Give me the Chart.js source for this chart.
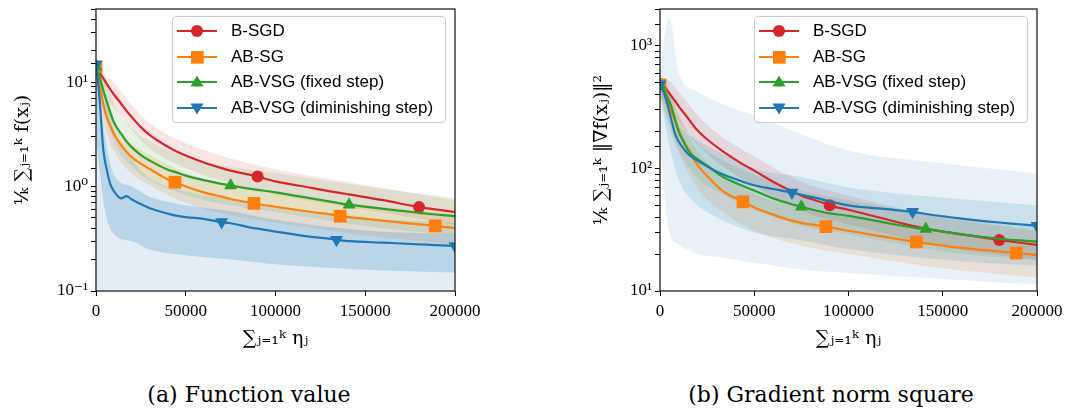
<!DOCTYPE html>
<html>
<head>
<meta charset="utf-8">
<script src="https://cdn.jsdelivr.net/npm/chart.js@4.4.1/dist/chart.umd.min.js"></script>
<style>
  body { margin: 0; width: 1068px; height: 416px; background: #fff; position: relative; overflow: hidden; }
  .panel { position: absolute; top: 0; }
  .legend { position: absolute; top: 16px; width: 272px; height: 105px; background: rgba(255,255,255,0.8);
            border: 1px solid #cccccc; border-radius: 4px; font-family: 'Liberation Sans', Arial, sans-serif;
            font-size: 17px; color: #000; }
  .legend .item { position: absolute; left: 4px; height: 20px; display: flex; align-items: center; white-space: nowrap; }
  .legend canvas { margin-right: 14px; }
  .caption { position: absolute; top: 382px; font-family: 'DejaVu Serif', serif; font-size: 22px;
             transform: translateX(-50%); white-space: nowrap; color: #000; }
</style>
</head>
<body>
<div class="panel" style="left:0px"><canvas id="chart-a" width="500" height="355"></canvas></div>
<div class="panel" style="left:540px"><canvas id="chart-b" width="528" height="355"></canvas></div>
<div class="legend" id="legend-a" style="left:172px"></div>
<div class="legend" id="legend-b" style="left:754px"></div>
<div class="caption" style="left:249px">(a) Function value</div>
<div class="caption" style="left:831px">(b) Gradient norm square</div>

<script>
// Series names and colours (legend order)
const SERIES = ['B-SGD', 'AB-SG', 'AB-VSG (fixed step)', 'AB-VSG (diminishing step)'];
const COLORS = ['#d62728', '#ff7f0e', '#2ca02c', '#1f77b4'];
const MARKERS = ['circle', 'rect', 'triangle', 'triangle'];
const ROTATIONS = [0, 0, 0, 180];
const RADII = [6, 9, 7.5, 7.5];

// Where the markers sit along the x axis
const MARK_BSGD = [0, 90000, 180000];
const MARK_ABSG = [0, 44000, 88000, 136000, 189000];
const MARK_FIXED = [0, 75000, 141000];
const MARK_DIM = [0, 70000, 134000, 200000];

const X_TICKS = [0, 50000, 100000, 150000, 200000];

// (a) Function value: mean curves
const LEFT_X = [0, 2000, 4000, 6000, 8000, 10000, 14000, 17000, 20000, 25000, 30000, 40000, 44000, 50000,
  60000, 70000, 75000, 88000, 90000, 100000, 120000, 134000, 136000, 141000, 160000, 180000, 189000, 200000];
const LEFT_BSGD = [14, 12.3, 10.9, 9.6, 8.5, 7.6, 6.2, 5.3, 4.6, 3.7, 3.1, 2.4, 2.2, 1.98,
  1.7, 1.5, 1.42, 1.27, 1.245, 1.12, 0.97, 0.88, 0.87, 0.84, 0.74, 0.635, 0.605, 0.57];
const LEFT_ABSG = [14, 9.5, 6.2, 4.6, 3.8, 3.18, 2.5, 2.15, 1.9, 1.65, 1.47, 1.17, 1.1, 1.0,
  0.88, 0.8, 0.76, 0.69, 0.68, 0.64, 0.57, 0.53, 0.52, 0.51, 0.47, 0.435, 0.42, 0.40];
const LEFT_FIXED = [14, 11.2, 8.4, 6.5, 5.1, 4.1, 3.2, 2.7, 2.37, 2.0, 1.77, 1.45, 1.38, 1.27,
  1.15, 1.06, 1.02, 0.94, 0.93, 0.88, 0.77, 0.7, 0.69, 0.67, 0.61, 0.56, 0.54, 0.52];
const LEFT_DIM = [14.7, 7.0, 2.3, 1.45, 1.05, 0.9, 0.77, 0.81, 0.75, 0.68, 0.62, 0.55, 0.53, 0.51,
  0.49, 0.457, 0.445, 0.4, 0.395, 0.37, 0.33, 0.31, 0.305, 0.3, 0.29, 0.28, 0.275, 0.27];

// Shaded spread bands (coarser grid)
const BAND_X = [0, 5000, 10000, 20000, 30000, 50000, 75000, 100000, 150000, 200000];
const LEFT_BSGD_HI = [16, 11.7, 9.9, 6.0, 4.0, 2.6, 1.85, 1.46, 1.03, 0.74];
const LEFT_BSGD_LO = [12, 6.8, 5.7, 3.45, 2.3, 1.5, 1.07, 0.84, 0.6, 0.43];
const LEFT_ABSG_HI = [16, 7.2, 4.3, 2.6, 2.0, 1.35, 1.03, 0.86, 0.66, 0.54];
const LEFT_ABSG_LO = [12, 3.7, 2.2, 1.33, 1.03, 0.7, 0.53, 0.45, 0.34, 0.28];
const LEFT_FIXED_HI = [16, 11, 6.2, 3.6, 2.7, 1.95, 1.55, 1.35, 1.0, 0.78];
const LEFT_FIXED_LO = [12, 4.8, 2.7, 1.55, 1.15, 0.83, 0.66, 0.57, 0.42, 0.34];
const LEFT_DIM_HI = [16, 3.0, 1.3, 1.0, 0.8, 0.66, 0.58, 0.48, 0.38, 0.35];
const LEFT_DIM_LO = [3, 0.6, 0.35, 0.3, 0.25, 0.22, 0.2, 0.18, 0.16, 0.15];
const LEFT_DIM_TOP = [18, 8, 3.5, 1.8, 1.2, 0.9, 0.75, 0.62, 0.5, 0.45];
const LEFT_DIM_BOT = [0.08, 0.08, 0.08, 0.08, 0.08, 0.08, 0.09, 0.1, 0.1, 0.1];

// (b) Gradient norm square: mean curves
const RIGHT_X = [0, 2000, 4000, 6000, 8000, 10000, 13000, 15000, 19000, 24000, 33000, 44000, 50000,
  60000, 70000, 75000, 88000, 90000, 100000, 120000, 134000, 136000, 141000, 160000, 180000, 189000, 200000];
const RIGHT_BSGD = [480, 470, 430, 390, 355, 320, 280, 255, 212, 178, 139, 108, 96,
  78, 65, 60, 51.5, 50, 46, 38.5, 34, 33.5, 32.3, 29, 26.1, 25, 23.8];
const RIGHT_ABSG = [480, 420, 350, 290, 245, 205, 160, 145, 112, 90, 66, 53.4, 48,
  42, 37.5, 36, 33.5, 33, 31, 27.5, 25.4, 25.1, 24.5, 22.5, 21, 20.4, 19.7];
const RIGHT_FIXED = [480, 440, 380, 320, 250, 198, 160, 140, 122, 108, 86, 72, 66,
  57, 51, 48.6, 43.5, 43, 41, 36, 33, 32.6, 32, 29, 26.7, 26, 25.3];
const RIGHT_DIM = [486, 420, 330, 250, 191, 165, 142, 131, 118, 106, 90, 78, 73,
  68, 63.5, 61, 55, 54, 50, 46.5, 44.3, 43.8, 42.5, 39, 36.2, 35.2, 34.1];

const RIGHT_BSGD_HI = [560, 520, 420, 270, 195, 125, 78, 60, 40, 31];
const RIGHT_BSGD_LO = [400, 300, 240, 155, 113, 72, 45, 35, 23, 18];
const RIGHT_ABSG_HI = [560, 420, 270, 137, 96, 62, 47, 40, 30.5, 25.6];
const RIGHT_ABSG_LO = [400, 210, 133, 68, 48, 31, 23.4, 20, 15.3, 12.8];
const RIGHT_FIXED_HI = [560, 450, 270, 160, 125, 89, 66, 55, 41, 34];
const RIGHT_FIXED_LO = [400, 230, 140, 83, 65, 46, 34, 29, 21, 17.7];
const RIGHT_DIM_HI = [600, 400, 230, 170, 140, 100, 85, 70, 58, 50];
const RIGHT_DIM_LO = [400, 150, 80, 50, 40, 30, 26, 22, 18, 16];
const RIGHT_DIM_TOP = [700, 1700, 600, 420, 350, 270, 190, 140, 110, 91];
const RIGHT_DIM_BOT = [150, 30, 24, 20, 19, 17, 15, 14, 12.5, 11.3];

// Turn x and y lists into point objects
function pts(xs, ys) {
  return xs.map((x, k) => ({ x: x, y: ys[k] }));
}

function rgba(hex, a) {
  const n = parseInt(hex.slice(1), 16);
  return `rgba(${n >> 16}, ${(n >> 8) & 255}, ${n & 255}, ${a})`;
}

// Mean curve with a few markers
function lineDataset(i, xs, ys, marks) {
  return {
    label: SERIES[i],
    data: pts(xs, ys),
    borderColor: COLORS[i],
    backgroundColor: COLORS[i],
    borderWidth: 2.2,
    pointStyle: MARKERS[i],
    rotation: ROTATIONS[i],
    pointBorderWidth: 0,
    pointRadius: ctx => (ctx.raw && marks.includes(ctx.raw.x)) ? RADII[i] : 0,
    cubicInterpolationMode: 'monotone',
    fill: false
  };
}

// Band between two curves, filled with a light tint
function bandDatasets(i, lo, hi, alpha) {
  return [
    { data: pts(BAND_X, lo), borderWidth: 0, pointRadius: 0, cubicInterpolationMode: 'monotone', fill: false },
    { data: pts(BAND_X, hi), borderWidth: 0, pointRadius: 0, cubicInterpolationMode: 'monotone',
      fill: '-1', backgroundColor: rgba(COLORS[i], alpha) }
  ];
}

const SUP = { '-': '\u207b', '0': '\u2070', '1': '\u00b9', '2': '\u00b2', '3': '\u00b3' };

function powerLabel(v) {
  const e = Math.log10(v);
  if (Math.abs(e - Math.round(e)) > 1e-6) return '';
  return '10' + String(Math.round(e)).split('').map(c => SUP[c]).join('');
}

// Draws the full box around the plot area
const framePlugin = {
  id: 'frame',
  afterDatasetsDraw(chart) {
    const a = chart.chartArea;
    const ctx = chart.ctx;
    ctx.save();
    ctx.strokeStyle = '#222';
    ctx.lineWidth = 1.3;
    ctx.strokeRect(a.left, a.top, a.right - a.left, a.bottom - a.top);
    ctx.restore();
  }
};

const TICK_FONT = { family: "'Liberation Serif', 'DejaVu Serif', serif", size: 17 };
const TITLE_FONT = { family: "'DejaVu Serif', serif", size: 19 };

function makeChart(id, datasets, yMin, yMax, yTitle, axisWidth, rightPad, yTitlePad) {
  const canvas = document.getElementById(id);
  return new Chart(canvas.getContext('2d'), {
    type: 'line',
    data: { datasets: datasets },
    plugins: [framePlugin],
    options: {
      responsive: false,
      animation: false,
      events: [],
      layout: { padding: { left: 0, right: rightPad, top: 7, bottom: 0 } },
      plugins: { legend: { display: false }, tooltip: { enabled: false } },
      scales: {
        x: {
          type: 'linear',
          min: 0,
          max: 200000,
          afterBuildTicks: scale => { scale.ticks = X_TICKS.map(v => ({ value: v })); },
          afterFit: scale => { scale.height = 64; },
          border: { display: false },
          grid: { drawOnChartArea: false, drawTicks: true, tickLength: 5, color: '#000' },
          ticks: { font: TICK_FONT, color: '#000', padding: 5, maxRotation: 0, callback: v => String(v) },
          title: { display: true, text: '\u2211\u2c7c\u208c\u2081\u1d4f \u03b7\u2c7c', font: TITLE_FONT,
                   color: '#000', padding: { top: 0, bottom: 5 } }
        },
        y: {
          type: 'logarithmic',
          min: yMin,
          max: yMax,
          afterFit: scale => {
            scale.width = axisWidth;
            scale.paddingTop = 0;
            scale.paddingBottom = 0;
          },
          border: { display: false },
          grid: { drawOnChartArea: false, drawTicks: true, tickLength: 5, color: '#000' },
          ticks: { font: TICK_FONT, color: '#000', padding: 3, autoSkip: false, callback: v => powerLabel(v) },
          title: { display: true, text: yTitle, font: TITLE_FONT, color: '#000',
                   padding: { top: yTitlePad, bottom: 0 } }
        }
      }
    }
  });
}

// Legend with line + marker handles, stacked like the original
function buildLegend(id) {
  const box = document.getElementById(id);
  const tops = [4, 30, 55, 81];
  SERIES.forEach((name, i) => {
    const item = document.createElement('div');
    item.className = 'item';
    item.style.top = tops[i] + 'px';
    const c = document.createElement('canvas');
    c.width = 40; c.height = 20;
    const ctx = c.getContext('2d');
    ctx.strokeStyle = COLORS[i];
    ctx.lineWidth = 2.2;
    ctx.beginPath(); ctx.moveTo(0, 10); ctx.lineTo(40, 10); ctx.stroke();
    ctx.fillStyle = COLORS[i];
    ctx.beginPath();
    if (i === 0) {
      ctx.arc(20, 10, 6, 0, Math.PI * 2);
    } else if (i === 1) {
      ctx.rect(14, 4, 12.7, 12.7);
    } else if (i === 2) {
      ctx.moveTo(20, 3.5); ctx.lineTo(26.5, 14.5); ctx.lineTo(13.5, 14.5); ctx.closePath();
    } else {
      ctx.moveTo(20, 16.5); ctx.lineTo(26.5, 5.5); ctx.lineTo(13.5, 5.5); ctx.closePath();
    }
    ctx.fill();
    item.appendChild(c);
    const label = document.createElement('span');
    label.textContent = name;
    item.appendChild(label);
    box.appendChild(item);
  });
}

const leftSets = [
  lineDataset(3, LEFT_X, LEFT_DIM, MARK_DIM),
  lineDataset(2, LEFT_X, LEFT_FIXED, MARK_FIXED),
  lineDataset(1, LEFT_X, LEFT_ABSG, MARK_ABSG),
  lineDataset(0, LEFT_X, LEFT_BSGD, MARK_BSGD),
  ...bandDatasets(3, LEFT_DIM_BOT, LEFT_DIM_TOP, 0.13),
  ...bandDatasets(3, LEFT_DIM_LO, LEFT_DIM_HI, 0.2),
  ...bandDatasets(2, LEFT_FIXED_LO, LEFT_FIXED_HI, 0.12),
  ...bandDatasets(1, LEFT_ABSG_LO, LEFT_ABSG_HI, 0.16),
  ...bandDatasets(0, LEFT_BSGD_LO, LEFT_BSGD_HI, 0.12)
];

const rightSets = [
  lineDataset(3, RIGHT_X, RIGHT_DIM, MARK_DIM),
  lineDataset(2, RIGHT_X, RIGHT_FIXED, MARK_FIXED),
  lineDataset(1, RIGHT_X, RIGHT_ABSG, MARK_ABSG),
  lineDataset(0, RIGHT_X, RIGHT_BSGD, MARK_BSGD),
  ...bandDatasets(3, RIGHT_DIM_BOT, RIGHT_DIM_TOP, 0.1),
  ...bandDatasets(3, RIGHT_DIM_LO, RIGHT_DIM_HI, 0.14),
  ...bandDatasets(2, RIGHT_FIXED_LO, RIGHT_FIXED_HI, 0.12),
  ...bandDatasets(1, RIGHT_ABSG_LO, RIGHT_ABSG_HI, 0.15),
  ...bandDatasets(0, RIGHT_BSGD_LO, RIGHT_BSGD_HI, 0.13)
];

makeChart('chart-a', leftSets, 0.1, 50,
  '\u00b9\u2044\u2096 \u2211\u2c7c\u208c\u2081\u1d4f f(x\u2c7c)', 96, 45, 12);
makeChart('chart-b', rightSets, 10, 2000,
  '\u00b9\u2044\u2096 \u2211\u2c7c\u208c\u2081\u1d4f \u2016\u2207f(x\u2c7c)\u2016\u00b2', 120, 31, 51);

buildLegend('legend-a');
buildLegend('legend-b');
</script>
</body>
</html>
